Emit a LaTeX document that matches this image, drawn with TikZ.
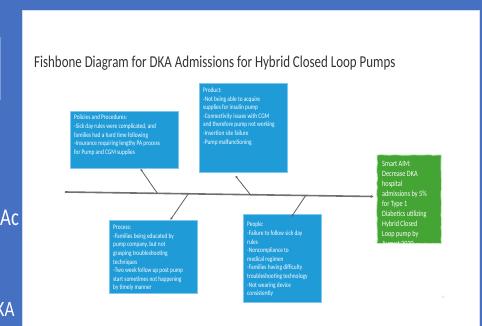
\documentclass[tikz,border=0pt]{standalone}
\usepackage{fontspec}
\setmainfont{Carlito}[FakeStretch=0.78]
\usepackage{xcolor}
\usepackage{tikz}
\usetikzlibrary{arrows.meta,calc,decorations.pathmorphing}
\definecolor{BG}{HTML}{4671C2}
\definecolor{BX}{HTML}{1F9BD8}
\definecolor{BXE}{HTML}{7CC8EE}
\definecolor{AIM}{HTML}{44A535}
\definecolor{AIME}{HTML}{C4E8B8}
\definecolor{TTL}{HTML}{333333}
\definecolor{SPN}{HTML}{707070}
\definecolor{PGN}{HTML}{9DBFE0}

\tikzset{%
  causebox/.style={draw=BXE, fill=BX, line width=0.6pt, anchor=north west, inner sep=0pt},%
  causetxt/.style={anchor=north west, text=white, align=left, inner sep=0pt, font=\fontsize{6.9}{8.6}\selectfont},%
  bone/.style={draw=SPN!85!black, line width=0.8pt, -{Latex[length=2.6pt,width=2.4pt]}},%
  spine/.style={draw=SPN, line width=1.6pt, -{Latex[length=3pt,width=3pt]}},%
}

\begin{document}
\begin{tikzpicture}[x=1pt,y=-1pt]%
\useasboundingbox (0,0) rectangle (482,325);%
\clip (0,0) rectangle (482,325);%
% slide behind
\fill[BG] (-5,-5) rectangle (490,330);%
\fill[BG!70!white] (0,37) rectangle (1.2,100);%
\node[anchor=base west, text=white, inner sep=0pt, font=\fontsize{24}{24}\selectfont] (ac) at (0,225) {Ac};%
\node[anchor=base west, text=white, inner sep=0pt, font=\fontsize{22}{22}\selectfont] (ka) at (-4.5,316) {KA};%
\fill[white] (22,10) rectangle (479,330);%
\draw[BG!25!white, line width=0.6pt] (22,330) -- (22,10) -- (479,10) -- (479,330);%
% title
\node[anchor=west, text=TTL, inner sep=0pt, font=\fontsize{16.6}{19}\selectfont] (title) at (34,63) {Fishbone Diagram for DKA Admissions for Hybrid Closed Loop Pumps};%
% cause boxes
\node[causebox, minimum width=108pt, minimum height=57pt] (policies) at (70,111) {};%
\node[causetxt] (policies-txt) at (74,115) {Policies and Procedures:\\-Sick day rules were complicated, and\\families had a hard time following\\-Insurance requiring lengthy PA process\\for Pump and CGM supplies};%
\node[causebox, minimum width=88pt, minimum height=89pt] (product) at (199,83) {};%
\node[causetxt] (product-txt) at (203,87.5) {Product:\\-Not being able to acquire\\supplies for insulin pump\\-Connectivity issues with CGM\\and therefore pump not working\\-Insertion site failure\\-Pump malfunctioning};%
\node[causebox, minimum width=88pt, minimum height=73pt] (process) at (109,220) {};%
\node[causetxt] (process-txt) at (113,225) {Process:\\-Families being educated by\\pump company, but not\\grasping troubleshooting\\techniques\\-Two week follow up post pump\\start sometimes not happening\\by timely manner};%
\node[causebox, minimum width=78pt, minimum height=88pt] (people) at (243,214) {};%
\node[causetxt] (people-txt) at (247,222) {People:\\-Failure to follow sick day\\rules\\-Noncompliance to\\medical regimen\\-Families having difficulty\\troubleshooting technology\\-Not wearing device\\consistently};%
% aim box
\node[fill=AIM, anchor=north west, inner sep=0pt, minimum width=64pt, minimum height=88pt] (aim) at (377,155) {};%
\draw[AIME, line width=0.8pt, decorate, decoration={random steps, segment length=4pt, amplitude=0.5pt}] (aim.north west) rectangle (aim.south east);%
\begin{scope}%
\clip (aim.north west) rectangle (aim.south east);%
\node[anchor=north west, text=white, align=left, inner sep=0pt, font=\fontsize{8}{10}\selectfont] (aim-txt) at (382,161) {Smart AIM:\\Decrease DKA\\hospital\\admissions by 5\%\\for Type 1\\Diabetics utilizing\\Hybrid Closed\\Loop pump by\\August 2020};%
\end{scope}%
% spine and bones
\coordinate (tail) at (65,192);%
\coordinate (head) at (374,196.5);%
\draw[spine] (tail) -- (head);%
\coordinate (j-pol) at ($(tail)!0.299!(head)$);%
\coordinate (j-proc) at ($(tail)!0.399!(head)$);%
\coordinate (j-prod) at ($(tail)!0.600!(head)$);%
\coordinate (j-peo) at ($(tail)!0.779!(head)$);%
\draw[bone] (j-pol) -- ([xshift=16pt]policies.south);%
\draw[bone] (j-proc) -- ([xshift=17pt]process.north);%
\draw[bone] (j-prod) -- ([xshift=-8pt,yshift=-3pt]product.south);%
\draw[bone] (j-peo) -- ([xshift=9pt,yshift=-3pt]people.north);%
% page number
\node[text=PGN, inner sep=0pt, font=\fontsize{3.5}{4}\selectfont] (pgnum) at (443,297) {12};%
\end{tikzpicture}
\end{document}
